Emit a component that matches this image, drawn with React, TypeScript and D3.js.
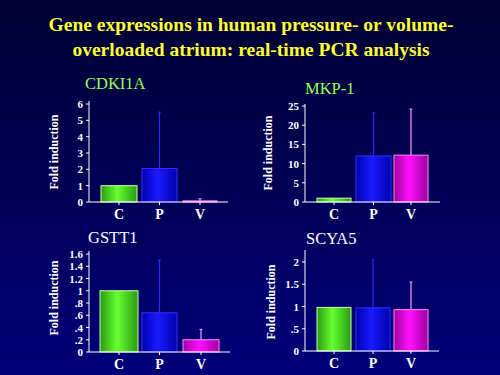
import React from "react";
import * as d3 from "d3";

const categories = ["C", "P", "V"];
const genes = ["CDKI1A", "MKP-1", "GSTT1", "SCYA5"];
const cdki1aValues = [1.0, 2.05, 0.07];
const cdki1aErrTop = [null, 5.5, 0.2];
const mkp1Values = [1.0, 12.0, 12.2];
const mkp1ErrTop = [null, 23.2, 24.2];
const gstt1Values = [1.0, 0.64, 0.2];
const gstt1ErrTop = [null, 1.5, 0.37];
const scya5Values = [0.98, 0.97, 0.93];
const scya5ErrTop = [null, 2.05, 1.55];
const cdki1aTicks = [0, 1, 2, 3, 4, 5, 6];
const mkp1Ticks = [0, 5, 10, 15, 20, 25];
const gstt1Ticks = [0, 0.2, 0.4, 0.6, 0.8, 1, 1.2, 1.4, 1.6];
const gstt1TickLabels = ["0", ".2", ".4", ".6", ".8", "1", "1.2", "1.4", "1.6"];
const scya5Ticks = [0, 0.5, 1, 1.5, 2];
const scya5TickLabels = ["0", ".5", "1", "1.5", "2"];

const panels = [
  { name: genes[0], values: cdki1aValues, err: cdki1aErrTop, ticks: cdki1aTicks, labels: cdki1aTicks.map(String),
    x0: 89, x1: 228, y0: 202, y1: 104, axTop: 101, tx: 85, ty: 89, tc: "#99ff55", lx: 58, ly: 152, bars: [[101, 137], [142, 177], [183, 217]] },
  { name: genes[1], values: mkp1Values, err: mkp1ErrTop, ticks: mkp1Ticks, labels: mkp1Ticks.map(String),
    x0: 305, x1: 440, y0: 202, y1: 106, axTop: 104, tx: 305, ty: 94, tc: "#99ff55", lx: 272, ly: 153, bars: [[317, 351], [356, 391], [394, 428]] },
  { name: genes[2], values: gstt1Values, err: gstt1ErrTop, ticks: gstt1Ticks, labels: gstt1TickLabels,
    x0: 89, x1: 230, y0: 352, y1: 254, axTop: 251, tx: 88, ty: 243, tc: "white", lx: 58, ly: 298, bars: [[100, 138], [142, 177], [183, 219]] },
  { name: genes[3], values: scya5Values, err: scya5ErrTop, ticks: scya5Ticks, labels: scya5TickLabels,
    x0: 305, x1: 439, y0: 351, y1: 262, axTop: 250, tx: 306, ty: 244, tc: "white", lx: 275, ly: 302, bars: [[317, 351], [356, 390], [394, 428]] },
];

const fills = ["url(#gGreen)", "url(#gBlue)", "url(#gMag)"];
const strokes = ["#ccffaa", "#3030ff", "#ff88ff"];
const errColors = ["#ccffaa", "#2a2aff", "#ff99ff"];
const font = "'Liberation Serif', 'Times New Roman', serif";

export default function App() {
  return (
    <svg width={500} height={375} style={{ position: "absolute", left: 0, top: 0 }}>
      <defs>
        <linearGradient id="bg" x1="0" y1="0" x2="0" y2="1">
          <stop offset="0" stopColor="#000033" />
          <stop offset="1" stopColor="#00007a" />
        </linearGradient>
        <linearGradient id="gGreen" x1="0" y1="0" x2="1" y2="0">
          <stop offset="0" stopColor="#2a9a10" />
          <stop offset="0.45" stopColor="#66ff33" />
          <stop offset="1" stopColor="#2a9a10" />
        </linearGradient>
        <linearGradient id="gBlue" x1="0" y1="0" x2="1" y2="0">
          <stop offset="0" stopColor="#0000b0" />
          <stop offset="0.45" stopColor="#1a1aff" />
          <stop offset="1" stopColor="#0000b0" />
        </linearGradient>
        <linearGradient id="gMag" x1="0" y1="0" x2="1" y2="0">
          <stop offset="0" stopColor="#a000a0" />
          <stop offset="0.45" stopColor="#ff10ff" />
          <stop offset="1" stopColor="#a000a0" />
        </linearGradient>
      </defs>
      <rect width={500} height={375} fill="url(#bg)" />
      <text x={251} y={31} textAnchor="middle" fill="#ffff33" fontFamily={font} fontWeight="bold" fontSize={19.5}>
        Gene expressions in human pressure- or volume-
      </text>
      <text x={251} y={56} textAnchor="middle" fill="#ffff33" fontFamily={font} fontWeight="bold" fontSize={19.5}>
        overloaded atrium: real-time PCR analysis
      </text>
      {panels.map((p) => {
        const yt = d3.scaleLinear().domain([0, p.ticks[p.ticks.length - 1]]).range([p.y0, p.y1]);
        return (
          <g key={p.name}>
            <text x={p.tx} y={p.ty} fill={p.tc} fontFamily={font} fontSize={16.5}>{p.name}</text>
            <text transform={`translate(${p.lx},${p.ly}) rotate(-90)`} textAnchor="middle" fill="white"
              fontFamily={font} fontWeight="bold" fontSize={12}>Fold induction</text>
            {p.values.map((v, i) => {
              const [bx0, bx1] = p.bars[i];
              const cx = (bx0 + bx1) / 2;
              const e = p.err[i];
              return (
                <g key={i}>
                  {e != null && (
                    <line x1={cx} x2={cx} y1={yt(v)} y2={yt(e)} stroke={errColors[i]} strokeWidth={1.2} />
                  )}
                  {e != null && (
                    <line x1={cx - 1.5} x2={cx + 1.5} y1={yt(e)} y2={yt(e)} stroke={errColors[i]} strokeWidth={1} />
                  )}
                  <rect x={bx0} y={yt(v)} width={bx1 - bx0} height={p.y0 - yt(v)} fill={fills[i]}
                    stroke={strokes[i]} strokeWidth={1} />
                  <line x1={cx} x2={cx} y1={p.y0} y2={p.y0 + 3} stroke="white" strokeWidth={1} />
                  <text x={cx} y={p.y0 + 17} textAnchor="middle" fill="white" fontFamily={font}
                    fontWeight="bold" fontSize={14}>{categories[i]}</text>
                </g>
              );
            })}
            <line x1={p.x0} x2={p.x0} y1={p.y0} y2={p.axTop} stroke="white" strokeWidth={1} />
            <line x1={p.x0} x2={p.x1} y1={p.y0} y2={p.y0} stroke="white" strokeWidth={1.2} />
            {p.ticks.map((t, j) => (
              <g key={j}>
                <line x1={p.x0 - 3} x2={p.x0} y1={yt(t)} y2={yt(t)} stroke="white" strokeWidth={1} />
                <text x={p.x0 - 6} y={yt(t) + 4} textAnchor="end" fill="white" fontFamily={font}
                  fontWeight="bold" fontSize={11}>{p.labels[j]}</text>
              </g>
            ))}
          </g>
        );
      })}
    </svg>
  );
}
